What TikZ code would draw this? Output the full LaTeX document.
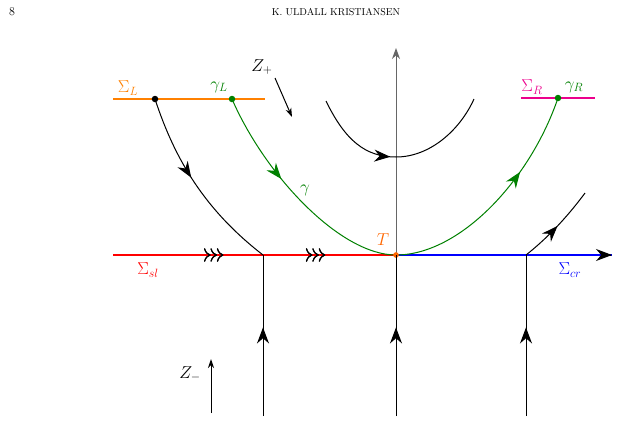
\documentclass[tikz,border=0pt]{standalone}
\usetikzlibrary{arrows.meta,decorations.markings,calc}
\begin{document}
\begin{tikzpicture}[x=1pt,y=-1pt,line width=1pt,
  lab/.style={font=\LARGE},
  big/.style={-{Stealth[length=11pt,width=8pt]}},
  mid/.style={postaction={decorate},decoration={markings,mark=at position #1 with {\arrow{Stealth[length=16pt,width=12pt]}}}},
  trip/.style={postaction={decorate},decoration={markings,mark=at position #1 with {\arrow[line width=1.1pt,black]{>[scale=1.6]>[scale=1.6]>[scale=1.6]}}}},
  dot/.style={circle,fill,inner sep=2.3pt}]
\useasboundingbox (0,0) rectangle (622,424);
\node[font=\large] (pg) at (12,12) {8};
\node[font=\normalsize] (hd) at (336,12) {K. ULDALL KRISTIANSEN};
% axes
\coordinate (vb) at (396,416); \coordinate (vt) at (396,48);
\draw[gray!80!black,big] (vb) -- (vt);
\coordinate (sl0) at (113,255); \coordinate (T) at (396,255); \coordinate (cr1) at (612,255);
\draw[red,line width=1.4pt,trip=0.39,trip=0.75] (sl0) -- (T);
\draw[blue,line width=1.4pt] (T) -- (cr1);
\draw[-{Stealth[length=16pt,width=12pt]}] ($(cr1)+(-1,0)$) -- (cr1);
% sigma L, R
\coordinate (L0) at (113,99); \coordinate (L1) at (265,99);
\draw[orange,line width=2.2pt] (L0) -- (L1);
\coordinate (R0) at (521,98); \coordinate (R1) at (595,98);
\draw[magenta,line width=2.2pt] (R0) -- (R1);
\node[dot,black] (pL) at (155,99) {};
\coordinate (q) at (263,255);
\draw[mid=0.45] (pL.center) .. controls (175,160) and (205,210) .. (q);
\node[dot,green!50!black] (gL) at (232,99) {};
\node[dot,green!50!black] (gR) at (558,98) {};
\draw[green!50!black,mid=0.4] (gL.center) .. controls (265,175) and (340,255) .. (T);
\draw[green!50!black,mid=0.65] (T) .. controls (460,255) and (530,180) .. (gR.center);
\node[dot,fill=orange!80!red,inner sep=2pt] (Td) at (T) {};
% verticals
\coordinate (a0) at (263,416); \coordinate (b0) at (396,416); \coordinate (c0) at (526,416);
\coordinate (c1) at (526,255);
\draw[mid=0.55] (a0) -- (q);
\draw[mid=0.55] (b0) -- (T);
\draw[mid=0.55] (c0) -- (c1);
\coordinate (c2) at (585,193);
\draw[mid=0.5] (c1) .. controls (545,240) and (565,220) .. (c2);
% parabola
\coordinate (p0) at (326,101); \coordinate (p1) at (396,157); \coordinate (p2) at (474,99);
\draw[mid=0.94] (p0) .. controls (345,140) and (365,157) .. (p1);
\draw (p1) .. controls (430,157) and (460,130) .. (p2);
% labels
\node[lab,orange] (lSL) at (128,88) {$\Sigma_L$};
\node[lab,green!50!black] (lgL) at (219,87) {$\gamma_L$};
\node[lab,magenta] (lSR) at (532,87) {$\Sigma_R$};
\node[lab,green!50!black] (lgR) at (574,87) {$\gamma_R$};
\node[lab,green!50!black] (lg) at (305,190) {$\gamma$};
\node[lab,orange!80!red] (lT) at (383,240) {$T$};
\node[lab,red] (lsl) at (148,270) {$\Sigma_{sl}$};
\node[lab,blue] (lcr) at (570,270) {$\Sigma_{cr}$};
\node[lab] (zp) at (262,67) {$Z_+$};
\coordinate (zp0) at (275,78); \coordinate (zp1) at (292,117);
\draw[-{Stealth[length=9pt,width=6pt]}] (zp0) -- (zp1);
\node[lab] (zm) at (190,374) {$Z_-$};
\coordinate (zm0) at (211,413); \coordinate (zm1) at (211,359);
\draw[-{Stealth[length=9pt,width=6pt]}] (zm0) -- (zm1);
\end{tikzpicture}
\end{document}
